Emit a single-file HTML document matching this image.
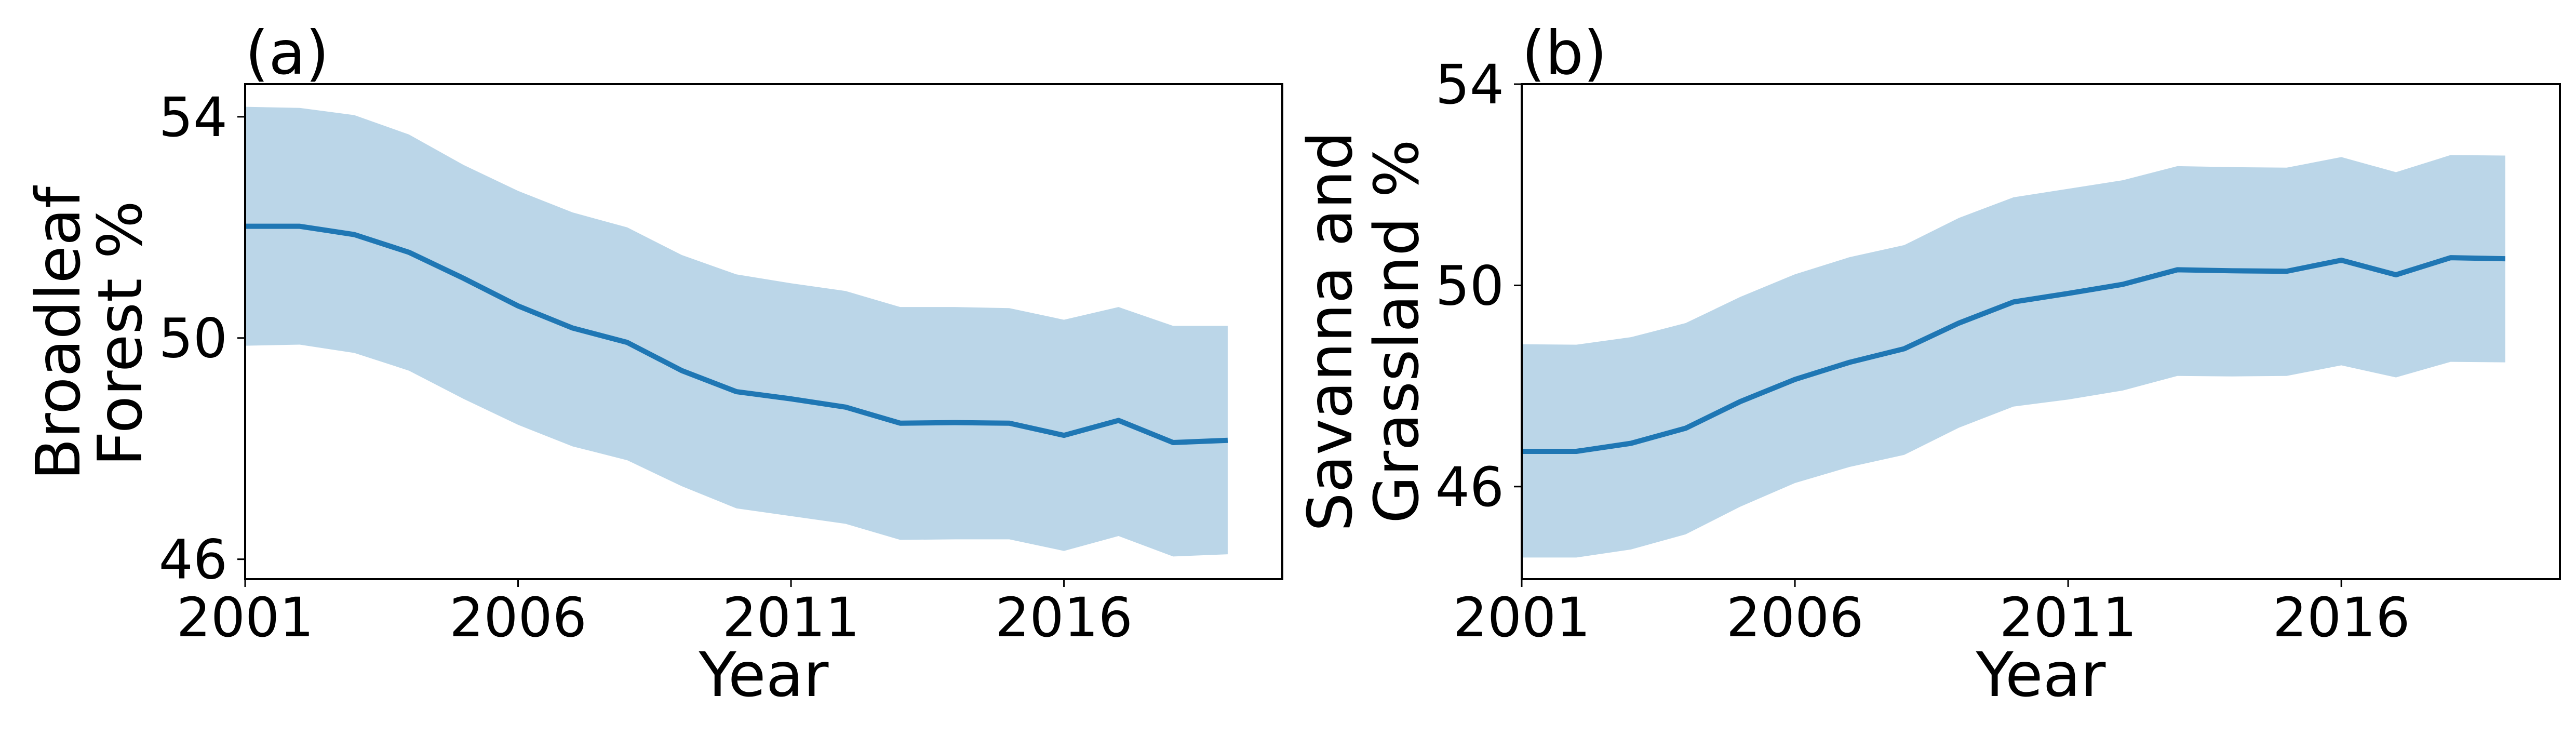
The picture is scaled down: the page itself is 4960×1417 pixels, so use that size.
<!DOCTYPE html>
<html><head><meta charset="utf-8">
<style>html,body{margin:0;padding:0;background:#fff;}svg{display:block;font-family:"DejaVu Sans","Liberation Sans",sans-serif;}</style>
</head><body>
<svg id="chart" width="4960" height="1417" viewBox="0 0 4960 1417" xmlns="http://www.w3.org/2000/svg"></svg>
<script>
const years = [2001,2002,2003,2004,2005,2006,2007,2008,2009,2010,2011,2012,2013,2014,2015,2016,2017,2018,2019];
const xTicks = [2001,2006,2011,2016];
const yTicks = [46,50,54];
const broadleafMean = [52.02,52.02,51.87,51.55,51.08,50.58,50.18,49.92,49.41,49.03,48.90,48.75,48.46,48.47,48.46,48.24,48.51,48.11,48.15];
const broadleafUpper = [54.18,54.16,54.03,53.68,53.13,52.66,52.27,52.00,51.50,51.15,50.99,50.85,50.56,50.56,50.54,50.33,50.56,50.22,50.22];
const broadleafLower = [49.86,49.88,49.73,49.41,48.90,48.43,48.04,47.79,47.32,46.92,46.78,46.64,46.35,46.36,46.36,46.15,46.42,46.05,46.09];
const savannaMean = [46.70,46.70,46.86,47.16,47.69,48.13,48.47,48.74,49.25,49.67,49.84,50.02,50.31,50.29,50.28,50.50,50.21,50.55,50.53];
const savannaUpper = [48.83,48.82,48.97,49.25,49.77,50.22,50.56,50.80,51.34,51.75,51.92,52.09,52.37,52.35,52.34,52.55,52.25,52.59,52.58];
const savannaLower = [44.59,44.59,44.75,45.05,45.60,46.07,46.39,46.63,47.17,47.59,47.73,47.91,48.20,48.19,48.20,48.41,48.17,48.48,48.47];

const NS='http://www.w3.org/2000/svg';
const svg=document.getElementById('chart');
function mk(tag,attrs,parent){const e=document.createElementNS(NS,tag);for(const k in attrs)e.setAttribute(k,attrs[k]);(parent||svg).appendChild(e);return e;}

function panel(cfg){
  const g=mk('g',{});
  
  
  const L=cfg.left,R=cfg.right,T=162,B=1115;
  const xs=v=>L+(v-2001)/(2020-2001)*(R-L);
  const ys=v=>B-(v-cfg.ymin)/(cfg.ymax-cfg.ymin)*(B-T);
  let d='';
  cfg.upper.forEach((v,i)=>{d+=(i?'L':'M')+xs(years[i])+','+ys(v);});
  for(let i=cfg.lower.length-1;i>=0;i--)d+='L'+xs(years[i])+','+ys(cfg.lower[i]);
  const band=mk('path',{d:d+'Z',fill:'#1f77b4','fill-opacity':'0.3'},g);
  
  
  let dl='';
  cfg.mean.forEach((v,i)=>{dl+=(i?'L':'M')+xs(years[i])+','+ys(v);});
  const line=mk('path',{d:dl,fill:'none',stroke:'#1f77b4','stroke-width':10,'stroke-linejoin':'round'},g);
  
  
  const frame=mk('rect',{x:L,y:T,width:R-L,height:B-T,fill:'none',stroke:'#000','stroke-width':4},g);
  
  
  xTicks.forEach(t=>{
    const x=xs(t);
    mk('line',{x1:x,x2:x,y1:B,y2:B+15,stroke:'#000','stroke-width':3},g);
    const tx=mk('text',{x:x,y:1225,'font-size':104,'text-anchor':'middle'},g);
    tx.textContent=t;
    
    
  });
  yTicks.forEach(t=>{
    const y=ys(t);
    mk('line',{x1:L,x2:L-15,y1:y,y2:y,stroke:'#000','stroke-width':3},g);
    const ty=mk('text',{x:L-34,y:y+37,'font-size':104,'text-anchor':'end'},g);
    ty.textContent=t;
    
    
  });
  const xl=mk('text',{x:(L+R)/2,y:1340,'font-size':118,'text-anchor':'middle'},g);
  xl.textContent='Year';
  
  
  const cy=cfg.ylcy;
  cfg.ylabel.forEach((s,i)=>{
    const x=cfg.ylx[i];
    const yl=mk('text',{x:x,y:cy,'font-size':118,'text-anchor':'middle',transform:'rotate(-90 '+x+' '+cy+')'},g);
    yl.textContent=s;
    
    
  });
  const tl=mk('text',{x:L,y:142,'font-size':116},g);
  tl.textContent=cfg.title;
  
  
}
panel({name:'panel-a-broadleaf',left:472,right:2469,ymin:45.64,ymax:54.59,mean:broadleafMean,upper:broadleafUpper,lower:broadleafLower,ylabel:['Broadleaf','Forest %'],ylx:[153,272],ylcy:642,title:'(a)'});
panel({name:'panel-b-savanna',left:2930,right:4929,ymin:44.16,ymax:54.0,mean:savannaMean,upper:savannaUpper,lower:savannaLower,ylabel:['Savanna and','Grassland %'],ylx:[2602,2730],ylcy:638,title:'(b)'});
</script>
</body></html>
